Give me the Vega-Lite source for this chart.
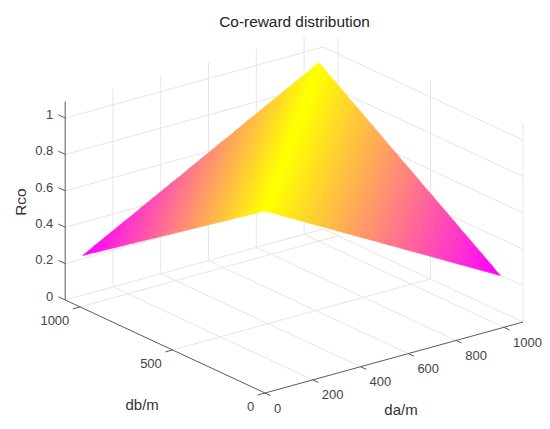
{
"$schema":"https://vega.github.io/schema/vega-lite/v6.json",
"width":550,"height":429,"padding":0,"autosize":{"type":"none"},"background":"white",
"title":{"text":"Co-reward distribution","anchor":"middle","dx":19.5,"offset":-30,"fontSize":15.4,"font":"Liberation Sans","fontWeight":"normal","color":"#222222"},
"config":{"view":{"stroke":null}},
"datasets":{
"grid":[
{"da":200,"db":0,"rco":0,"da2":200,"db2":1080,"rco2":0},{"da":400,"db":0,"rco":0,"da2":400,"db2":1080,"rco2":0},{"da":600,"db":0,"rco":0,"da2":600,"db2":1080,"rco2":0},{"da":800,"db":0,"rco":0,"da2":800,"db2":1080,"rco2":0},{"da":1000,"db":0,"rco":0,"da2":1000,"db2":1080,"rco2":0},
{"da":0,"db":500,"rco":0,"da2":1080,"db2":500,"rco2":0},{"da":0,"db":1000,"rco":0,"da2":1080,"db2":1000,"rco2":0},
{"da":200,"db":1080,"rco":0,"da2":200,"db2":1080,"rco2":1.09},{"da":400,"db":1080,"rco":0,"da2":400,"db2":1080,"rco2":1.09},{"da":600,"db":1080,"rco":0,"da2":600,"db2":1080,"rco2":1.09},{"da":800,"db":1080,"rco":0,"da2":800,"db2":1080,"rco2":1.09},{"da":1000,"db":1080,"rco":0,"da2":1000,"db2":1080,"rco2":1.09},
{"da":0,"db":1080,"rco":0,"da2":1080,"db2":1080,"rco2":0},{"da":0,"db":1080,"rco":0.2,"da2":1080,"db2":1080,"rco2":0.2},{"da":0,"db":1080,"rco":0.4,"da2":1080,"db2":1080,"rco2":0.4},{"da":0,"db":1080,"rco":0.6,"da2":1080,"db2":1080,"rco2":0.6},{"da":0,"db":1080,"rco":0.8,"da2":1080,"db2":1080,"rco2":0.8},{"da":0,"db":1080,"rco":1,"da2":1080,"db2":1080,"rco2":1},
{"da":1080,"db":0,"rco":0,"da2":1080,"db2":0,"rco2":1.09},{"da":1080,"db":500,"rco":0,"da2":1080,"db2":500,"rco2":1.09},{"da":1080,"db":1000,"rco":0,"da2":1080,"db2":1000,"rco2":1.09},
{"da":1080,"db":0,"rco":0,"da2":1080,"db2":1080,"rco2":0},{"da":1080,"db":0,"rco":0.2,"da2":1080,"db2":1080,"rco2":0.2},{"da":1080,"db":0,"rco":0.4,"da2":1080,"db2":1080,"rco2":0.4},{"da":1080,"db":0,"rco":0.6,"da2":1080,"db2":1080,"rco2":0.6},{"da":1080,"db":0,"rco":0.8,"da2":1080,"db2":1080,"rco2":0.8},{"da":1080,"db":0,"rco":1,"da2":1080,"db2":1080,"rco2":1}
],
"axes":[
{"da":0,"db":1080,"rco":0,"da2":0,"db2":1080,"rco2":1.09},{"da":0,"db":0,"rco":0,"da2":0,"db2":1080,"rco2":0},{"da":0,"db":0,"rco":0,"da2":1080,"db2":0,"rco2":0},
{"da":0,"db":1080,"rco":0,"da2":0,"db2":1117,"rco2":0},{"da":0,"db":1080,"rco":0.2,"da2":0,"db2":1117,"rco2":0.2},{"da":0,"db":1080,"rco":0.4,"da2":0,"db2":1117,"rco2":0.4},{"da":0,"db":1080,"rco":0.6,"da2":0,"db2":1117,"rco2":0.6},{"da":0,"db":1080,"rco":0.8,"da2":0,"db2":1117,"rco2":0.8},{"da":0,"db":1080,"rco":1,"da2":0,"db2":1117,"rco2":1},
{"da":0,"db":0,"rco":0,"da2":-30,"db2":0,"rco2":0},{"da":0,"db":500,"rco":0,"da2":-30,"db2":500,"rco2":0},{"da":0,"db":1000,"rco":0,"da2":-30,"db2":1000,"rco2":0},
{"da":0,"db":0,"rco":0,"da2":0,"db2":-30,"rco2":0},{"da":200,"db":0,"rco":0,"da2":200,"db2":-30,"rco2":0},{"da":400,"db":0,"rco":0,"da2":400,"db2":-30,"rco2":0},{"da":600,"db":0,"rco":0,"da2":600,"db2":-30,"rco2":0},{"da":800,"db":0,"rco":0,"da2":800,"db2":-30,"rco2":0},{"da":1000,"db":0,"rco":0,"da2":1000,"db2":-30,"rco2":0}
],
"surface":[
{"s":0,"k":0,"da":0,"db":0,"rco":1},{"s":0,"k":1,"da":1000,"db":1000,"rco":0.98},{"s":0,"k":2,"da":1000,"db":975,"rco":0.963},{"s":0,"k":3,"da":25,"db":0,"rco":0.982},
{"s":1,"k":0,"da":25,"db":0,"rco":0.982},{"s":1,"k":1,"da":1000,"db":975,"rco":0.963},{"s":1,"k":2,"da":999,"db":950,"rco":0.946},{"s":1,"k":3,"da":49,"db":0,"rco":0.965},
{"s":2,"k":0,"da":49,"db":0,"rco":0.965},{"s":2,"k":1,"da":999,"db":950,"rco":0.946},{"s":2,"k":2,"da":999,"db":925,"rco":0.928},{"s":2,"k":3,"da":74,"db":0,"rco":0.947},
{"s":3,"k":0,"da":74,"db":0,"rco":0.947},{"s":3,"k":1,"da":999,"db":925,"rco":0.928},{"s":3,"k":2,"da":999,"db":900,"rco":0.911},{"s":3,"k":3,"da":99,"db":0,"rco":0.929},
{"s":4,"k":0,"da":99,"db":0,"rco":0.929},{"s":4,"k":1,"da":999,"db":900,"rco":0.911},{"s":4,"k":2,"da":998,"db":875,"rco":0.894},{"s":4,"k":3,"da":123,"db":0,"rco":0.911},
{"s":5,"k":0,"da":123,"db":0,"rco":0.911},{"s":5,"k":1,"da":998,"db":875,"rco":0.894},{"s":5,"k":2,"da":998,"db":850,"rco":0.877},{"s":5,"k":3,"da":148,"db":0,"rco":0.894},
{"s":6,"k":0,"da":148,"db":0,"rco":0.894},{"s":6,"k":1,"da":998,"db":850,"rco":0.877},{"s":6,"k":2,"da":997,"db":825,"rco":0.859},{"s":6,"k":3,"da":172,"db":0,"rco":0.876},
{"s":7,"k":0,"da":172,"db":0,"rco":0.876},{"s":7,"k":1,"da":997,"db":825,"rco":0.859},{"s":7,"k":2,"da":997,"db":800,"rco":0.842},{"s":7,"k":3,"da":197,"db":0,"rco":0.858},
{"s":8,"k":0,"da":197,"db":0,"rco":0.858},{"s":8,"k":1,"da":997,"db":800,"rco":0.842},{"s":8,"k":2,"da":997,"db":775,"rco":0.825},{"s":8,"k":3,"da":222,"db":0,"rco":0.84},
{"s":9,"k":0,"da":222,"db":0,"rco":0.84},{"s":9,"k":1,"da":997,"db":775,"rco":0.825},{"s":9,"k":2,"da":996,"db":750,"rco":0.808},{"s":9,"k":3,"da":246,"db":0,"rco":0.823},
{"s":10,"k":0,"da":246,"db":0,"rco":0.823},{"s":10,"k":1,"da":996,"db":750,"rco":0.808},{"s":10,"k":2,"da":996,"db":725,"rco":0.79},{"s":10,"k":3,"da":271,"db":0,"rco":0.805},
{"s":11,"k":0,"da":271,"db":0,"rco":0.805},{"s":11,"k":1,"da":996,"db":725,"rco":0.79},{"s":11,"k":2,"da":996,"db":700,"rco":0.773},{"s":11,"k":3,"da":296,"db":0,"rco":0.787},
{"s":12,"k":0,"da":296,"db":0,"rco":0.787},{"s":12,"k":1,"da":996,"db":700,"rco":0.773},{"s":12,"k":2,"da":995,"db":675,"rco":0.756},{"s":12,"k":3,"da":320,"db":0,"rco":0.769},
{"s":13,"k":0,"da":320,"db":0,"rco":0.769},{"s":13,"k":1,"da":995,"db":675,"rco":0.756},{"s":13,"k":2,"da":995,"db":650,"rco":0.739},{"s":13,"k":3,"da":345,"db":0,"rco":0.752},
{"s":14,"k":0,"da":345,"db":0,"rco":0.752},{"s":14,"k":1,"da":995,"db":650,"rco":0.739},{"s":14,"k":2,"da":994,"db":625,"rco":0.721},{"s":14,"k":3,"da":369,"db":0,"rco":0.734},
{"s":15,"k":0,"da":369,"db":0,"rco":0.734},{"s":15,"k":1,"da":994,"db":625,"rco":0.721},{"s":15,"k":2,"da":994,"db":600,"rco":0.704},{"s":15,"k":3,"da":394,"db":0,"rco":0.716},
{"s":16,"k":0,"da":394,"db":0,"rco":0.716},{"s":16,"k":1,"da":994,"db":600,"rco":0.704},{"s":16,"k":2,"da":994,"db":575,"rco":0.687},{"s":16,"k":3,"da":419,"db":0,"rco":0.698},
{"s":17,"k":0,"da":419,"db":0,"rco":0.698},{"s":17,"k":1,"da":994,"db":575,"rco":0.687},{"s":17,"k":2,"da":993,"db":550,"rco":0.67},{"s":17,"k":3,"da":443,"db":0,"rco":0.681},
{"s":18,"k":0,"da":443,"db":0,"rco":0.681},{"s":18,"k":1,"da":993,"db":550,"rco":0.67},{"s":18,"k":2,"da":993,"db":525,"rco":0.652},{"s":18,"k":3,"da":468,"db":0,"rco":0.663},
{"s":19,"k":0,"da":468,"db":0,"rco":0.663},{"s":19,"k":1,"da":993,"db":525,"rco":0.652},{"s":19,"k":2,"da":993,"db":500,"rco":0.635},{"s":19,"k":3,"da":493,"db":0,"rco":0.645},
{"s":20,"k":0,"da":493,"db":0,"rco":0.645},{"s":20,"k":1,"da":993,"db":500,"rco":0.635},{"s":20,"k":2,"da":992,"db":475,"rco":0.618},{"s":20,"k":3,"da":517,"db":0,"rco":0.627},
{"s":21,"k":0,"da":517,"db":0,"rco":0.627},{"s":21,"k":1,"da":992,"db":475,"rco":0.618},{"s":21,"k":2,"da":992,"db":450,"rco":0.601},{"s":21,"k":3,"da":542,"db":0,"rco":0.61},
{"s":22,"k":0,"da":542,"db":0,"rco":0.61},{"s":22,"k":1,"da":992,"db":450,"rco":0.601},{"s":22,"k":2,"da":991,"db":425,"rco":0.583},{"s":22,"k":3,"da":566,"db":0,"rco":0.592},
{"s":23,"k":0,"da":566,"db":0,"rco":0.592},{"s":23,"k":1,"da":991,"db":425,"rco":0.583},{"s":23,"k":2,"da":991,"db":400,"rco":0.566},{"s":23,"k":3,"da":591,"db":0,"rco":0.574},
{"s":24,"k":0,"da":591,"db":0,"rco":0.574},{"s":24,"k":1,"da":991,"db":400,"rco":0.566},{"s":24,"k":2,"da":991,"db":375,"rco":0.549},{"s":24,"k":3,"da":616,"db":0,"rco":0.556},
{"s":25,"k":0,"da":616,"db":0,"rco":0.556},{"s":25,"k":1,"da":991,"db":375,"rco":0.549},{"s":25,"k":2,"da":990,"db":350,"rco":0.532},{"s":25,"k":3,"da":640,"db":0,"rco":0.539},
{"s":26,"k":0,"da":640,"db":0,"rco":0.539},{"s":26,"k":1,"da":990,"db":350,"rco":0.532},{"s":26,"k":2,"da":990,"db":325,"rco":0.514},{"s":26,"k":3,"da":665,"db":0,"rco":0.521},
{"s":27,"k":0,"da":665,"db":0,"rco":0.521},{"s":27,"k":1,"da":990,"db":325,"rco":0.514},{"s":27,"k":2,"da":990,"db":300,"rco":0.497},{"s":27,"k":3,"da":690,"db":0,"rco":0.503},
{"s":28,"k":0,"da":690,"db":0,"rco":0.503},{"s":28,"k":1,"da":990,"db":300,"rco":0.497},{"s":28,"k":2,"da":989,"db":275,"rco":0.48},{"s":28,"k":3,"da":714,"db":0,"rco":0.485},
{"s":29,"k":0,"da":714,"db":0,"rco":0.485},{"s":29,"k":1,"da":989,"db":275,"rco":0.48},{"s":29,"k":2,"da":989,"db":250,"rco":0.463},{"s":29,"k":3,"da":739,"db":0,"rco":0.468},
{"s":30,"k":0,"da":739,"db":0,"rco":0.468},{"s":30,"k":1,"da":989,"db":250,"rco":0.463},{"s":30,"k":2,"da":988,"db":225,"rco":0.445},{"s":30,"k":3,"da":763,"db":0,"rco":0.45},
{"s":31,"k":0,"da":763,"db":0,"rco":0.45},{"s":31,"k":1,"da":988,"db":225,"rco":0.445},{"s":31,"k":2,"da":988,"db":200,"rco":0.428},{"s":31,"k":3,"da":788,"db":0,"rco":0.432},
{"s":32,"k":0,"da":788,"db":0,"rco":0.432},{"s":32,"k":1,"da":988,"db":200,"rco":0.428},{"s":32,"k":2,"da":988,"db":175,"rco":0.411},{"s":32,"k":3,"da":813,"db":0,"rco":0.414},
{"s":33,"k":0,"da":813,"db":0,"rco":0.414},{"s":33,"k":1,"da":988,"db":175,"rco":0.411},{"s":33,"k":2,"da":987,"db":150,"rco":0.394},{"s":33,"k":3,"da":837,"db":0,"rco":0.397},
{"s":34,"k":0,"da":837,"db":0,"rco":0.397},{"s":34,"k":1,"da":987,"db":150,"rco":0.394},{"s":34,"k":2,"da":987,"db":125,"rco":0.376},{"s":34,"k":3,"da":862,"db":0,"rco":0.379},
{"s":35,"k":0,"da":862,"db":0,"rco":0.379},{"s":35,"k":1,"da":987,"db":125,"rco":0.376},{"s":35,"k":2,"da":987,"db":100,"rco":0.359},{"s":35,"k":3,"da":887,"db":0,"rco":0.361},
{"s":36,"k":0,"da":887,"db":0,"rco":0.361},{"s":36,"k":1,"da":987,"db":100,"rco":0.359},{"s":36,"k":2,"da":986,"db":75,"rco":0.342},{"s":36,"k":3,"da":911,"db":0,"rco":0.343},
{"s":37,"k":0,"da":911,"db":0,"rco":0.343},{"s":37,"k":1,"da":986,"db":75,"rco":0.342},{"s":37,"k":2,"da":986,"db":50,"rco":0.325},{"s":37,"k":3,"da":936,"db":0,"rco":0.326},
{"s":38,"k":0,"da":936,"db":0,"rco":0.326},{"s":38,"k":1,"da":986,"db":50,"rco":0.325},{"s":38,"k":2,"da":985,"db":25,"rco":0.307},{"s":38,"k":3,"da":960,"db":0,"rco":0.308},
{"s":39,"k":0,"da":960,"db":0,"rco":0.308},{"s":39,"k":1,"da":985,"db":25,"rco":0.307},{"s":39,"k":2,"da":985,"db":0,"rco":0.29},
{"s":40,"k":0,"db":0,"da":0,"rco":1},{"s":40,"k":1,"db":1000,"da":1000,"rco":0.98},{"s":40,"k":2,"db":1000,"da":975,"rco":0.963},{"s":40,"k":3,"db":25,"da":0,"rco":0.982},
{"s":41,"k":0,"db":25,"da":0,"rco":0.982},{"s":41,"k":1,"db":1000,"da":975,"rco":0.963},{"s":41,"k":2,"db":999,"da":950,"rco":0.946},{"s":41,"k":3,"db":49,"da":0,"rco":0.965},
{"s":42,"k":0,"db":49,"da":0,"rco":0.965},{"s":42,"k":1,"db":999,"da":950,"rco":0.946},{"s":42,"k":2,"db":999,"da":925,"rco":0.928},{"s":42,"k":3,"db":74,"da":0,"rco":0.947},
{"s":43,"k":0,"db":74,"da":0,"rco":0.947},{"s":43,"k":1,"db":999,"da":925,"rco":0.928},{"s":43,"k":2,"db":999,"da":900,"rco":0.911},{"s":43,"k":3,"db":99,"da":0,"rco":0.929},
{"s":44,"k":0,"db":99,"da":0,"rco":0.929},{"s":44,"k":1,"db":999,"da":900,"rco":0.911},{"s":44,"k":2,"db":998,"da":875,"rco":0.894},{"s":44,"k":3,"db":123,"da":0,"rco":0.911},
{"s":45,"k":0,"db":123,"da":0,"rco":0.911},{"s":45,"k":1,"db":998,"da":875,"rco":0.894},{"s":45,"k":2,"db":998,"da":850,"rco":0.877},{"s":45,"k":3,"db":148,"da":0,"rco":0.894},
{"s":46,"k":0,"db":148,"da":0,"rco":0.894},{"s":46,"k":1,"db":998,"da":850,"rco":0.877},{"s":46,"k":2,"db":997,"da":825,"rco":0.859},{"s":46,"k":3,"db":172,"da":0,"rco":0.876},
{"s":47,"k":0,"db":172,"da":0,"rco":0.876},{"s":47,"k":1,"db":997,"da":825,"rco":0.859},{"s":47,"k":2,"db":997,"da":800,"rco":0.842},{"s":47,"k":3,"db":197,"da":0,"rco":0.858},
{"s":48,"k":0,"db":197,"da":0,"rco":0.858},{"s":48,"k":1,"db":997,"da":800,"rco":0.842},{"s":48,"k":2,"db":997,"da":775,"rco":0.825},{"s":48,"k":3,"db":222,"da":0,"rco":0.84},
{"s":49,"k":0,"db":222,"da":0,"rco":0.84},{"s":49,"k":1,"db":997,"da":775,"rco":0.825},{"s":49,"k":2,"db":996,"da":750,"rco":0.808},{"s":49,"k":3,"db":246,"da":0,"rco":0.823},
{"s":50,"k":0,"db":246,"da":0,"rco":0.823},{"s":50,"k":1,"db":996,"da":750,"rco":0.808},{"s":50,"k":2,"db":996,"da":725,"rco":0.79},{"s":50,"k":3,"db":271,"da":0,"rco":0.805},
{"s":51,"k":0,"db":271,"da":0,"rco":0.805},{"s":51,"k":1,"db":996,"da":725,"rco":0.79},{"s":51,"k":2,"db":996,"da":700,"rco":0.773},{"s":51,"k":3,"db":296,"da":0,"rco":0.787},
{"s":52,"k":0,"db":296,"da":0,"rco":0.787},{"s":52,"k":1,"db":996,"da":700,"rco":0.773},{"s":52,"k":2,"db":995,"da":675,"rco":0.756},{"s":52,"k":3,"db":320,"da":0,"rco":0.769},
{"s":53,"k":0,"db":320,"da":0,"rco":0.769},{"s":53,"k":1,"db":995,"da":675,"rco":0.756},{"s":53,"k":2,"db":995,"da":650,"rco":0.739},{"s":53,"k":3,"db":345,"da":0,"rco":0.752},
{"s":54,"k":0,"db":345,"da":0,"rco":0.752},{"s":54,"k":1,"db":995,"da":650,"rco":0.739},{"s":54,"k":2,"db":994,"da":625,"rco":0.721},{"s":54,"k":3,"db":369,"da":0,"rco":0.734},
{"s":55,"k":0,"db":369,"da":0,"rco":0.734},{"s":55,"k":1,"db":994,"da":625,"rco":0.721},{"s":55,"k":2,"db":994,"da":600,"rco":0.704},{"s":55,"k":3,"db":394,"da":0,"rco":0.716},
{"s":56,"k":0,"db":394,"da":0,"rco":0.716},{"s":56,"k":1,"db":994,"da":600,"rco":0.704},{"s":56,"k":2,"db":994,"da":575,"rco":0.687},{"s":56,"k":3,"db":419,"da":0,"rco":0.698},
{"s":57,"k":0,"db":419,"da":0,"rco":0.698},{"s":57,"k":1,"db":994,"da":575,"rco":0.687},{"s":57,"k":2,"db":993,"da":550,"rco":0.67},{"s":57,"k":3,"db":443,"da":0,"rco":0.681},
{"s":58,"k":0,"db":443,"da":0,"rco":0.681},{"s":58,"k":1,"db":993,"da":550,"rco":0.67},{"s":58,"k":2,"db":993,"da":525,"rco":0.652},{"s":58,"k":3,"db":468,"da":0,"rco":0.663},
{"s":59,"k":0,"db":468,"da":0,"rco":0.663},{"s":59,"k":1,"db":993,"da":525,"rco":0.652},{"s":59,"k":2,"db":993,"da":500,"rco":0.635},{"s":59,"k":3,"db":493,"da":0,"rco":0.645},
{"s":60,"k":0,"db":493,"da":0,"rco":0.645},{"s":60,"k":1,"db":993,"da":500,"rco":0.635},{"s":60,"k":2,"db":992,"da":475,"rco":0.618},{"s":60,"k":3,"db":517,"da":0,"rco":0.627},
{"s":61,"k":0,"db":517,"da":0,"rco":0.627},{"s":61,"k":1,"db":992,"da":475,"rco":0.618},{"s":61,"k":2,"db":992,"da":450,"rco":0.601},{"s":61,"k":3,"db":542,"da":0,"rco":0.61},
{"s":62,"k":0,"db":542,"da":0,"rco":0.61},{"s":62,"k":1,"db":992,"da":450,"rco":0.601},{"s":62,"k":2,"db":991,"da":425,"rco":0.583},{"s":62,"k":3,"db":566,"da":0,"rco":0.592},
{"s":63,"k":0,"db":566,"da":0,"rco":0.592},{"s":63,"k":1,"db":991,"da":425,"rco":0.583},{"s":63,"k":2,"db":991,"da":400,"rco":0.566},{"s":63,"k":3,"db":591,"da":0,"rco":0.574},
{"s":64,"k":0,"db":591,"da":0,"rco":0.574},{"s":64,"k":1,"db":991,"da":400,"rco":0.566},{"s":64,"k":2,"db":991,"da":375,"rco":0.549},{"s":64,"k":3,"db":616,"da":0,"rco":0.556},
{"s":65,"k":0,"db":616,"da":0,"rco":0.556},{"s":65,"k":1,"db":991,"da":375,"rco":0.549},{"s":65,"k":2,"db":990,"da":350,"rco":0.532},{"s":65,"k":3,"db":640,"da":0,"rco":0.539},
{"s":66,"k":0,"db":640,"da":0,"rco":0.539},{"s":66,"k":1,"db":990,"da":350,"rco":0.532},{"s":66,"k":2,"db":990,"da":325,"rco":0.514},{"s":66,"k":3,"db":665,"da":0,"rco":0.521},
{"s":67,"k":0,"db":665,"da":0,"rco":0.521},{"s":67,"k":1,"db":990,"da":325,"rco":0.514},{"s":67,"k":2,"db":990,"da":300,"rco":0.497},{"s":67,"k":3,"db":690,"da":0,"rco":0.503},
{"s":68,"k":0,"db":690,"da":0,"rco":0.503},{"s":68,"k":1,"db":990,"da":300,"rco":0.497},{"s":68,"k":2,"db":989,"da":275,"rco":0.48},{"s":68,"k":3,"db":714,"da":0,"rco":0.485},
{"s":69,"k":0,"db":714,"da":0,"rco":0.485},{"s":69,"k":1,"db":989,"da":275,"rco":0.48},{"s":69,"k":2,"db":989,"da":250,"rco":0.463},{"s":69,"k":3,"db":739,"da":0,"rco":0.468},
{"s":70,"k":0,"db":739,"da":0,"rco":0.468},{"s":70,"k":1,"db":989,"da":250,"rco":0.463},{"s":70,"k":2,"db":988,"da":225,"rco":0.445},{"s":70,"k":3,"db":763,"da":0,"rco":0.45},
{"s":71,"k":0,"db":763,"da":0,"rco":0.45},{"s":71,"k":1,"db":988,"da":225,"rco":0.445},{"s":71,"k":2,"db":988,"da":200,"rco":0.428},{"s":71,"k":3,"db":788,"da":0,"rco":0.432},
{"s":72,"k":0,"db":788,"da":0,"rco":0.432},{"s":72,"k":1,"db":988,"da":200,"rco":0.428},{"s":72,"k":2,"db":988,"da":175,"rco":0.411},{"s":72,"k":3,"db":813,"da":0,"rco":0.414},
{"s":73,"k":0,"db":813,"da":0,"rco":0.414},{"s":73,"k":1,"db":988,"da":175,"rco":0.411},{"s":73,"k":2,"db":987,"da":150,"rco":0.394},{"s":73,"k":3,"db":837,"da":0,"rco":0.397},
{"s":74,"k":0,"db":837,"da":0,"rco":0.397},{"s":74,"k":1,"db":987,"da":150,"rco":0.394},{"s":74,"k":2,"db":987,"da":125,"rco":0.376},{"s":74,"k":3,"db":862,"da":0,"rco":0.379},
{"s":75,"k":0,"db":862,"da":0,"rco":0.379},{"s":75,"k":1,"db":987,"da":125,"rco":0.376},{"s":75,"k":2,"db":987,"da":100,"rco":0.359},{"s":75,"k":3,"db":887,"da":0,"rco":0.361},
{"s":76,"k":0,"db":887,"da":0,"rco":0.361},{"s":76,"k":1,"db":987,"da":100,"rco":0.359},{"s":76,"k":2,"db":986,"da":75,"rco":0.342},{"s":76,"k":3,"db":911,"da":0,"rco":0.343},
{"s":77,"k":0,"db":911,"da":0,"rco":0.343},{"s":77,"k":1,"db":986,"da":75,"rco":0.342},{"s":77,"k":2,"db":986,"da":50,"rco":0.325},{"s":77,"k":3,"db":936,"da":0,"rco":0.326},
{"s":78,"k":0,"db":936,"da":0,"rco":0.326},{"s":78,"k":1,"db":986,"da":50,"rco":0.325},{"s":78,"k":2,"db":985,"da":25,"rco":0.307},{"s":78,"k":3,"db":960,"da":0,"rco":0.308},
{"s":79,"k":0,"db":960,"da":0,"rco":0.308},{"s":79,"k":1,"db":985,"da":25,"rco":0.307},{"s":79,"k":2,"db":985,"da":0,"rco":0.29}
]
},
"encoding":{
"x":{"field":"u","type":"quantitative","scale":{"domain":[-265,285],"nice":false,"zero":false},"axis":null},
"y":{"field":"v","type":"quantitative","scale":{"domain":[-36,393],"nice":false,"zero":false},"axis":null}
},
"layer":[
{"data":{"name":"grid"},
"transform":[{"calculate":"0.2389*datum.da-0.185*datum.db","as":"u"},{"calculate":"0.0657*datum.da+0.0861*datum.db+182*datum.rco","as":"v"},{"calculate":"0.2389*datum.da2-0.185*datum.db2","as":"u2"},{"calculate":"0.0657*datum.da2+0.0861*datum.db2+182*datum.rco2","as":"v2"}],
"mark":{"type":"rule","color":"#e6e6e6","strokeWidth":1},
"encoding":{"x2":{"field":"u2"},"y2":{"field":"v2"}}},
{"data":{"name":"axes"},
"transform":[{"calculate":"0.2389*datum.da-0.185*datum.db","as":"u"},{"calculate":"0.0657*datum.da+0.0861*datum.db+182*datum.rco","as":"v"},{"calculate":"0.2389*datum.da2-0.185*datum.db2","as":"u2"},{"calculate":"0.0657*datum.da2+0.0861*datum.db2+182*datum.rco2","as":"v2"}],
"mark":{"type":"rule","color":"#5a5a5a","strokeWidth":1},
"encoding":{"x2":{"field":"u2"},"y2":{"field":"v2"}}},
{"data":{"name":"surface"},
"transform":[{"calculate":"0.2389*datum.da-0.185*datum.db","as":"u"},{"calculate":"0.0657*datum.da+0.0861*datum.db+182*datum.rco","as":"v"},{"joinaggregate":[{"op":"mean","field":"rco","as":"mid"}],"groupby":["s"]}],
"mark":{"type":"line","strokeWidth":0.7,"strokeJoin":"round","interpolate":"linear-closed"},
"encoding":{"detail":{"field":"s"},"order":{"field":"k"},
"fill":{"field":"mid","type":"quantitative","scale":{"domain":[0.295,0.98],"range":["#ff00ff","#ffff00"],"interpolate":"rgb"},"legend":null},
"stroke":{"field":"mid","type":"quantitative","scale":{"domain":[0.295,0.98],"range":["#ff00ff","#ffff00"],"interpolate":"rgb"},"legend":null}}},
{"data":{"values":[{"label":"0","da":0,"db":1117,"rco":0},{"label":"0.2","da":0,"db":1117,"rco":0.2},{"label":"0.4","da":0,"db":1117,"rco":0.4},{"label":"0.6","da":0,"db":1117,"rco":0.6},{"label":"0.8","da":0,"db":1117,"rco":0.8},{"label":"1","da":0,"db":1117,"rco":1}]},
"transform":[{"calculate":"0.2389*datum.da-0.185*datum.db","as":"u"},{"calculate":"0.0657*datum.da+0.0861*datum.db+182*datum.rco","as":"v"}],
"mark":{"type":"text","align":"right","baseline":"middle","dx":-5,"fontSize":13,"font":"Liberation Sans","color":"#444444"},
"encoding":{"text":{"field":"label"}}},
{"data":{"values":[{"label":"0","da":-30,"db":0,"rco":0},{"label":"500","da":-30,"db":500,"rco":0},{"label":"1000","da":-30,"db":1000,"rco":0}]},
"transform":[{"calculate":"0.2389*datum.da-0.185*datum.db","as":"u"},{"calculate":"0.0657*datum.da+0.0861*datum.db+182*datum.rco","as":"v"}],
"mark":{"type":"text","align":"right","baseline":"middle","dx":-3.5,"dy":12,"fontSize":13,"font":"Liberation Sans","color":"#444444"},
"encoding":{"text":{"field":"label"}}},
{"data":{"values":[{"label":"0","da":0,"db":-30,"rco":0},{"label":"200","da":200,"db":-30,"rco":0},{"label":"400","da":400,"db":-30,"rco":0},{"label":"600","da":600,"db":-30,"rco":0},{"label":"800","da":800,"db":-30,"rco":0},{"label":"1000","da":1000,"db":-30,"rco":0}]},
"transform":[{"calculate":"0.2389*datum.da-0.185*datum.db","as":"u"},{"calculate":"0.0657*datum.da+0.0861*datum.db+182*datum.rco","as":"v"}],
"mark":{"type":"text","align":"left","baseline":"middle","dx":3.5,"dy":13,"fontSize":13,"font":"Liberation Sans","color":"#444444"},
"encoding":{"text":{"field":"label"}}},
{"data":{"values":[{"label":"db/m","da":-391,"db":159,"rco":0},{"label":"da/m","da":262,"db":-397,"rco":0}]},
"transform":[{"calculate":"0.2389*datum.da-0.185*datum.db","as":"u"},{"calculate":"0.0657*datum.da+0.0861*datum.db+182*datum.rco","as":"v"}],
"mark":{"type":"text","align":"center","baseline":"middle","fontSize":15,"font":"Liberation Sans","color":"#333333"},
"encoding":{"text":{"field":"label"}}},
{"data":{"values":[{"label":"Rco","da":0,"db":1319,"rco":0.425}]},
"transform":[{"calculate":"0.2389*datum.da-0.185*datum.db","as":"u"},{"calculate":"0.0657*datum.da+0.0861*datum.db+182*datum.rco","as":"v"}],
"mark":{"type":"text","align":"center","baseline":"middle","angle":270,"fontSize":15.4,"font":"Liberation Sans","color":"#333333"},
"encoding":{"text":{"field":"label"}}}
]
}
